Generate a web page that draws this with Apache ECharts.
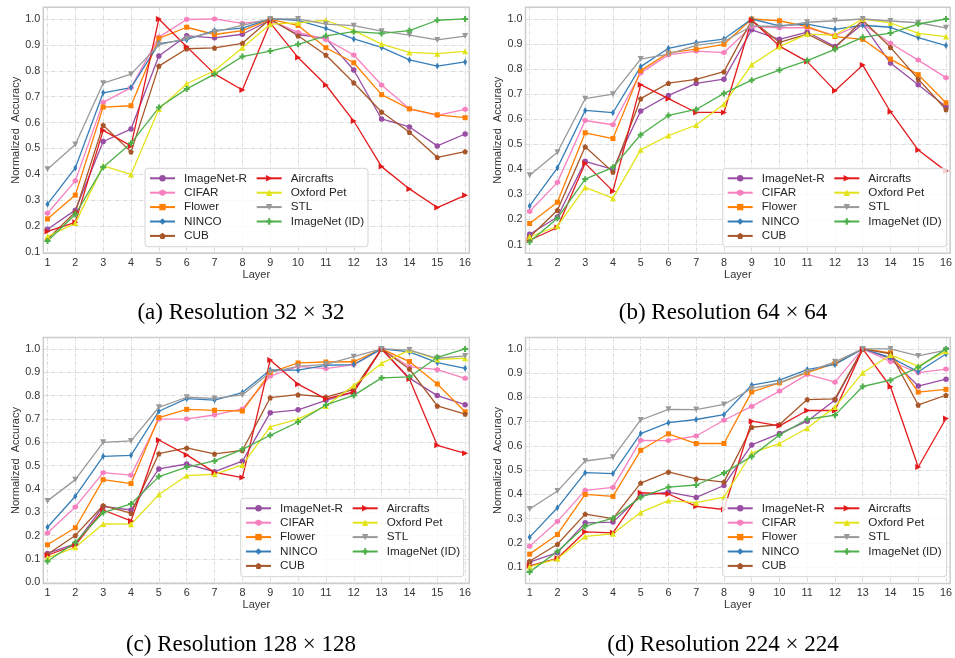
<!DOCTYPE html>
<html><head><meta charset="utf-8">
<script src="https://cdn.jsdelivr.net/npm/echarts@6/dist/echarts.min.js"></script>
<style>html,body{margin:0;padding:0;background:#fff}#c{width:955px;height:658px}</style>
</head><body><div id="c"></div>
<script>
// ---------- data ----------
const layers = [1,2,3,4,5,6,7,8,9,10,11,12,13,14,15,16];
const seriesNames = ['ImageNet-R','CIFAR','Flower','NINCO','CUB','Aircrafts','Oxford Pet','STL','ImageNet (ID)'];
const yTicksFrom01 = [0.1,0.2,0.3,0.4,0.5,0.6,0.7,0.8,0.9,1.0];
const yTicksFrom00 = [0.0,0.1,0.2,0.3,0.4,0.5,0.6,0.7,0.8,0.9,1.0];
const captions = ['(a) Resolution 32 × 32','(b) Resolution 64 × 64','(c) Resolution 128 × 128','(d) Resolution 224 × 224'];

// (a) 32x32
const a_imagenetR = [0.188,0.262,0.527,0.575,0.857,0.935,0.927,0.941,0.995,0.94,0.925,0.803,0.614,0.583,0.51,0.556];
const a_cifar     = [0.25,0.375,0.678,0.735,0.93,0.998,1.0,0.983,0.995,0.948,0.921,0.861,0.745,0.653,0.628,0.651];
const a_flower    = [0.228,0.32,0.66,0.665,0.925,0.968,0.94,0.955,0.998,0.975,0.889,0.831,0.708,0.653,0.63,0.619];
const a_ninco     = [0.285,0.425,0.715,0.735,0.905,0.92,0.955,0.965,1.0,0.995,0.964,0.923,0.89,0.842,0.818,0.834];
const a_cub       = [0.15,0.255,0.59,0.487,0.818,0.885,0.888,0.906,1.0,0.935,0.861,0.754,0.641,0.563,0.466,0.488];
const a_aircrafts = [0.18,0.215,0.57,0.51,1.0,0.893,0.788,0.726,0.985,0.851,0.745,0.606,0.43,0.344,0.272,0.319];
const a_oxford    = [0.16,0.212,0.433,0.40,0.652,0.75,0.80,0.889,0.98,0.985,0.995,0.955,0.903,0.871,0.866,0.875];
const a_stl       = [0.42,0.515,0.752,0.787,0.90,0.925,0.95,0.975,1.0,1.0,0.98,0.974,0.953,0.938,0.919,0.934];
const a_imagenet  = [0.143,0.245,0.428,0.52,0.658,0.73,0.787,0.855,0.876,0.902,0.935,0.951,0.944,0.955,0.995,1.0];

// (b) 64x64
const b_imagenetR = [0.141,0.21,0.432,0.40,0.633,0.695,0.743,0.76,0.957,0.919,0.948,0.89,0.98,0.824,0.738,0.65];
const b_cifar     = [0.232,0.348,0.595,0.578,0.785,0.857,0.872,0.866,0.97,0.965,0.965,0.935,0.98,0.903,0.836,0.766];
const b_flower    = [0.184,0.269,0.546,0.523,0.794,0.865,0.88,0.899,1.0,0.993,0.97,0.93,0.919,0.84,0.778,0.666];
const b_ninco     = [0.254,0.406,0.635,0.626,0.81,0.883,0.906,0.92,1.0,0.973,0.98,0.959,0.975,0.967,0.926,0.894];
const b_cub       = [0.13,0.237,0.49,0.389,0.682,0.744,0.759,0.79,0.995,0.907,0.94,0.885,0.995,0.887,0.76,0.639];
const b_aircrafts = [0.117,0.168,0.424,0.313,0.738,0.682,0.627,0.627,0.995,0.892,0.83,0.714,0.816,0.63,0.477,0.393];
const b_oxford    = [0.131,0.173,0.328,0.285,0.478,0.535,0.577,0.66,0.818,0.89,0.94,0.936,1.0,0.985,0.943,0.93];
const b_stl       = [0.376,0.468,0.682,0.70,0.84,0.86,0.895,0.91,0.972,0.97,0.987,0.993,1.0,0.992,0.985,0.965];
const b_imagenet  = [0.111,0.205,0.361,0.408,0.538,0.615,0.639,0.703,0.756,0.796,0.834,0.879,0.927,0.944,0.98,1.0];

// (c) 128x128
const c_imagenetR = [0.124,0.165,0.325,0.31,0.486,0.507,0.474,0.519,0.727,0.739,0.78,0.815,1.0,0.875,0.80,0.761];
const c_cifar     = [0.211,0.323,0.47,0.459,0.699,0.70,0.717,0.743,0.884,0.925,0.916,0.933,1.0,0.924,0.911,0.874];
const c_flower    = [0.161,0.234,0.44,0.423,0.706,0.741,0.737,0.734,0.899,0.94,0.944,0.945,1.0,0.946,0.85,0.731];
const c_ninco     = [0.236,0.369,0.54,0.544,0.733,0.787,0.781,0.813,0.91,0.909,0.93,0.933,1.0,0.987,0.941,0.917];
const c_cub       = [0.12,0.201,0.329,0.296,0.551,0.576,0.55,0.565,0.791,0.804,0.794,0.827,1.0,0.914,0.756,0.721];
const c_aircrafts = [0.116,0.16,0.31,0.263,0.61,0.546,0.471,0.449,0.953,0.849,0.786,0.816,1.0,0.871,0.587,0.553];
const c_oxford    = [0.105,0.15,0.25,0.249,0.376,0.457,0.463,0.503,0.666,0.699,0.756,0.843,0.939,0.995,0.955,0.96];
const c_stl       = [0.349,0.44,0.60,0.606,0.75,0.793,0.788,0.803,0.90,0.925,0.934,0.967,1.0,0.995,0.96,0.97];
const c_imagenet  = [0.09,0.171,0.299,0.336,0.453,0.494,0.52,0.57,0.63,0.687,0.76,0.801,0.876,0.88,0.964,1.0];

// (d) 224x224
const d_imagenetR = [0.121,0.16,0.283,0.286,0.395,0.41,0.388,0.437,0.604,0.651,0.702,0.789,1.0,0.96,0.847,0.875];
const d_cifar     = [0.187,0.289,0.417,0.429,0.623,0.622,0.641,0.706,0.763,0.826,0.895,0.863,1.0,0.948,0.902,0.917];
const d_flower    = [0.154,0.235,0.40,0.392,0.582,0.65,0.61,0.61,0.823,0.86,0.902,0.94,1.0,0.984,0.822,0.833];
const d_ninco     = [0.224,0.345,0.49,0.486,0.651,0.696,0.709,0.729,0.851,0.871,0.915,0.936,1.0,0.965,0.906,0.979];
const d_cub       = [0.125,0.195,0.319,0.30,0.447,0.493,0.464,0.451,0.677,0.688,0.791,0.794,1.0,0.98,0.769,0.809];
const d_aircrafts = [0.106,0.137,0.246,0.242,0.407,0.402,0.351,0.338,0.702,0.683,0.746,0.746,1.0,0.844,0.513,0.713];
const d_oxford    = [0.103,0.135,0.227,0.238,0.326,0.375,0.366,0.389,0.571,0.61,0.673,0.761,0.902,0.975,0.929,0.99];
const d_stl       = [0.34,0.414,0.538,0.553,0.707,0.751,0.75,0.771,0.837,0.86,0.905,0.947,1.0,1.0,0.971,0.995];
const d_imagenet  = [0.081,0.165,0.269,0.302,0.389,0.43,0.439,0.488,0.557,0.645,0.71,0.727,0.845,0.871,0.924,1.0];

const panelData = [
  [a_imagenetR,a_cifar,a_flower,a_ninco,a_cub,a_aircrafts,a_oxford,a_stl,a_imagenet],
  [b_imagenetR,b_cifar,b_flower,b_ninco,b_cub,b_aircrafts,b_oxford,b_stl,b_imagenet],
  [c_imagenetR,c_cifar,c_flower,c_ninco,c_cub,c_aircrafts,c_oxford,c_stl,c_imagenet],
  [d_imagenetR,d_cifar,d_flower,d_ninco,d_cub,d_aircrafts,d_oxford,d_stl,d_imagenet]
];

// ---------- styles / layout ----------
const colors = ['#984ea3','#f781bf','#ff7f00','#377eb8','#a65628','#e41a1c','#e3e31a','#999999','#4daf4a'];
const symbols = [
  'circle',
  'path://M5,0 L9.33,2.5 L9.33,7.5 L5,10 L0.67,7.5 L0.67,2.5 Z',
  'rect',
  'path://M3,0 L6,5 L3,10 L0,5 Z',
  'path://M5,0 L10,3.8 L8.1,10 L1.9,10 L0,3.8 Z',
  'path://M0,0 L10,5 L0,10 Z',
  'path://M5,0 L10,10 L0,10 Z',
  'path://M0,0 L10,0 L5,10 Z',
  'path://M3.3,0 L6.7,0 L6.7,3.3 L10,3.3 L10,6.7 L6.7,6.7 L6.7,10 L3.3,10 L3.3,6.7 L0,6.7 L0,3.3 L3.3,3.3 Z'
];
const symbolSizes = [5.5,5.5,5,[4,7],5.5,6,6,6,6];

const panels = [
  {left:43.3, top:7.3, yMin:0.0954, yMax:1.045, ticks:yTicksFrom01, lg1:149, lg2:255.7, lgTop:171.1, box:[145,168.3,223,78.4], cap:[241,313]},
  {left:525.5, top:7.3, yMin:0.065, yMax:1.0467, ticks:yTicksFrom01, lg1:726.7, lg2:833.3, lgTop:171.1, box:[722.7,168.3,224,78.4], cap:[723,313]},
  {left:43.3, top:337.5, yMin:-0.005, yMax:1.049, ticks:yTicksFrom00, lg1:245, lg2:351.7, lgTop:501.1, box:[240.7,498.3,223,78.4], cap:[241,645]},
  {left:525.5, top:337.5, yMin:0.033, yMax:1.047, ticks:yTicksFrom01, lg1:726.7, lg2:833.3, lgTop:501.1, box:[722.7,498.3,224,78.4], cap:[723,645]}
];

const FONT = '"Liberation Sans", Arial, sans-serif';
const gridLine = {show:true, lineStyle:{color:'#d2d2d2', width:0.8, type:[4,1.5,1,1.5]}};

const grids = [], xAxes = [], yAxes = [], series = [], legends = [], graphics = [];
panels.forEach((p, i) => {
  grids.push({left:p.left, top:p.top, width:426, height:246, show:true,
    borderColor:'#cccccc', borderWidth:1.5, backgroundColor:'rgba(0,0,0,0)'});
  xAxes.push({gridIndex:i, type:'value', min:0.85, max:16.15,
    axisLine:{show:false}, axisTick:{show:false, customValues:layers},
    axisLabel:{customValues:layers, margin:4, color:'#333', fontSize:10.8, fontFamily:FONT},
    splitLine:gridLine,
    name:'Layer', nameLocation:'middle', nameGap:16,
    nameTextStyle:{color:'#333', fontSize:11, fontFamily:FONT}});
  yAxes.push({gridIndex:i, type:'value', min:p.yMin, max:p.yMax,
    axisLine:{show:false}, axisTick:{show:false, customValues:p.ticks},
    axisLabel:{customValues:p.ticks, margin:3, color:'#333', fontSize:10.8, fontFamily:FONT,
      formatter:v => Number(v).toFixed(1)},
    splitLine:gridLine,
    name:'Normalized  Accuracy', nameLocation:'middle', nameGap:22, nameRotate:90,
    nameTextStyle:{color:'#333', fontSize:11, fontFamily:FONT}});
  panelData[i].forEach((vals, k) => {
    series.push({type:'line', name:seriesNames[k], xAxisIndex:i, yAxisIndex:i,
      data:layers.map((x, j) => [x, vals[j]]),
      symbol:symbols[k], symbolSize:symbolSizes[k], showSymbol:true,
      itemStyle:{color:colors[k]}, lineStyle:{color:colors[k], width:1.3},
      emphasis:{disabled:true}, animation:false, clip:false});
  });
  const lgBase = {orient:'vertical', itemWidth:25, itemHeight:8, itemGap:0, padding:0,
    selectedMode:false, z:6, top:p.lgTop,
    textStyle:{fontSize:11.7, fontFamily:FONT, color:'#262626', lineHeight:14.4, padding:[0,0,0,4]}};
  legends.push(Object.assign({}, lgBase, {left:p.lg1, data:seriesNames.slice(0,5)}));
  legends.push(Object.assign({}, lgBase, {left:p.lg2, data:seriesNames.slice(5)}));
  graphics.push({type:'rect', z:5, shape:{x:p.box[0], y:p.box[1], width:p.box[2], height:p.box[3], r:3},
    style:{fill:'rgba(255,255,255,0.8)', stroke:'#d4d4d4', lineWidth:1}});
  graphics.push({type:'text', z:5, x:p.cap[0], y:p.cap[1],
    style:{text:captions[i], font:'23px "Liberation Serif", "Times New Roman", serif', fill:'#000',
      textAlign:'center', textVerticalAlign:'middle'}});
});

const chart = echarts.init(document.getElementById('c'), null, {renderer:'canvas'});
chart.setOption({animation:false, backgroundColor:'#fff', grid:grids, xAxis:xAxes, yAxis:yAxes,
  series:series, legend:legends, graphic:graphics});
</script>
</body></html>
